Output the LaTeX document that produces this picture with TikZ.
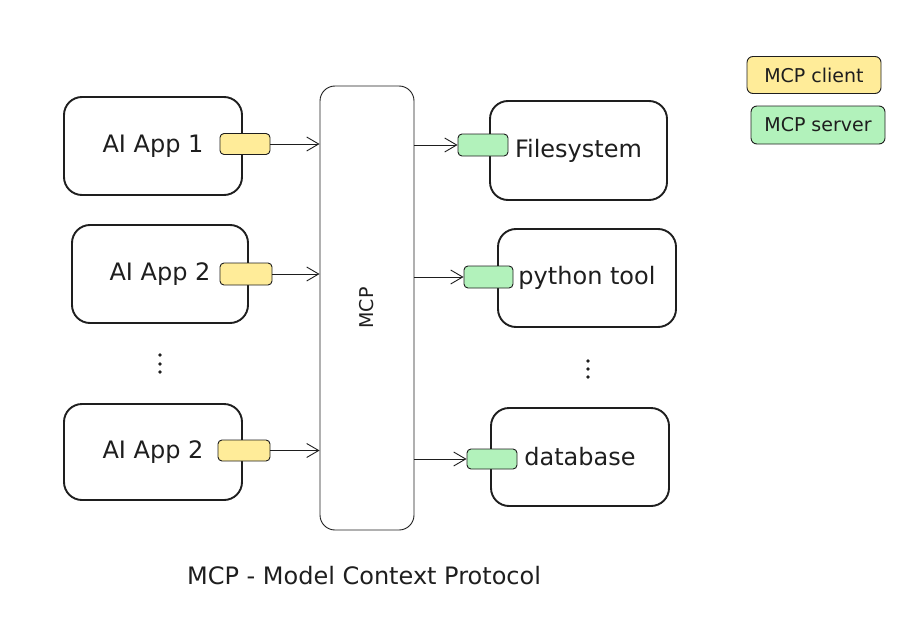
\documentclass[tikz,border=0pt]{standalone}
\usepackage{fontspec}
\setmainfont{DejaVu Sans}
\usetikzlibrary{arrows.meta}

\definecolor{ink}{HTML}{1E1E1E}
\definecolor{clientfill}{HTML}{FFEC99}
\definecolor{serverfill}{HTML}{B2F2BB}

\tikzset{
    appbox/.style={draw=ink, line width=1.9pt, rounded corners=18pt, fill=white,
        minimum width=178pt, minimum height=98pt, font=\fontsize{24}{28}\selectfont},
    clientbox/.style={draw=ink, line width=0.9pt, rounded corners=4pt, fill=clientfill,
        minimum width=50pt, minimum height=21pt, inner sep=0pt},
    serverbox/.style={clientbox, fill=serverfill},
    legendbox/.style={draw=ink, line width=0.9pt, rounded corners=6pt,
        minimum width=134pt, minimum height=37pt, font=\fontsize{19}{22}\selectfont},
    dot/.style={circle, fill=ink, inner sep=0pt, minimum size=3.6pt},
    arr/.style={draw=ink, line width=0.9pt, -{Straight Barb[length=12pt,width=14pt]}},
}

\begin{document}
\begin{tikzpicture}[x=1pt, y=-1pt, text=ink]
        \useasboundingbox (0,0) rectangle (918,626);

        % MCP bus in the middle
        \node[draw=ink, line width=0.9pt, rounded corners=15pt, minimum width=94pt,
            minimum height=444pt] (mcp) at (367,308) {};
        \node[rotate=90, font=\fontsize{19}{20}\selectfont] (mcplabel) at (367,308) {MCP};

        % applications on the left
        \node[appbox] (app1) at (153,146) {AI App 1};
        \node[appbox, minimum width=176pt] (app2) at (160,274) {AI App 2};
        \node[appbox, minimum height=96pt] (app3) at (153,452) {AI App 2};
        \foreach \i/\y in {1/355,2/364,3/372}
            \node[dot] (ldot\i) at (160,\y) {};

        \node[clientbox] (c1) at (245,144) {};
        \node[clientbox, minimum width=52pt, minimum height=22pt] (c2) at (246,274) {};
        \node[clientbox, minimum width=52pt] (c3) at (244,450.5) {};

        \draw[arr] (c1.east) -- (c1.east -| mcp.west);
        \draw[arr] (c2.east) -- (c2.east -| mcp.west);
        \draw[arr] (c3.east) -- (c3.east -| mcp.west);

        % servers on the right
        \node[appbox, minimum width=177pt, minimum height=99pt] (fs) at (578.5,150.5) {Filesystem};
        \node[appbox] (py) at (587,278) {python tool};
        \node[appbox] (db) at (580,457) {database};
        \foreach \i/\y in {1/361,2/369,3/377}
            \node[dot] (rdot\i) at (588,\y) {};

        \node[serverbox, minimum height=22pt] (s1) at (483,145) {};
        \node[serverbox, minimum width=49pt, minimum height=22pt] (s2) at (488.5,277) {};
        \node[serverbox, minimum height=20pt] (s3) at (492,459) {};

        \draw[arr] (s1.west -| mcp.east) -- (s1.west);
        \draw[arr] (s2.west -| mcp.east) -- (s2.west);
        \draw[arr] (s3.west -| mcp.east) -- (s3.west);

        % legend
        \node[legendbox, fill=clientfill] (legclient) at (814,75) {MCP client};
        \node[legendbox, fill=serverfill, minimum height=38pt] (legserver) at (818,125) {MCP server};

        \node[font=\fontsize{24}{28}\selectfont] (caption) at (364,576) {MCP - Model Context Protocol};
\end{tikzpicture}
\end{document}
